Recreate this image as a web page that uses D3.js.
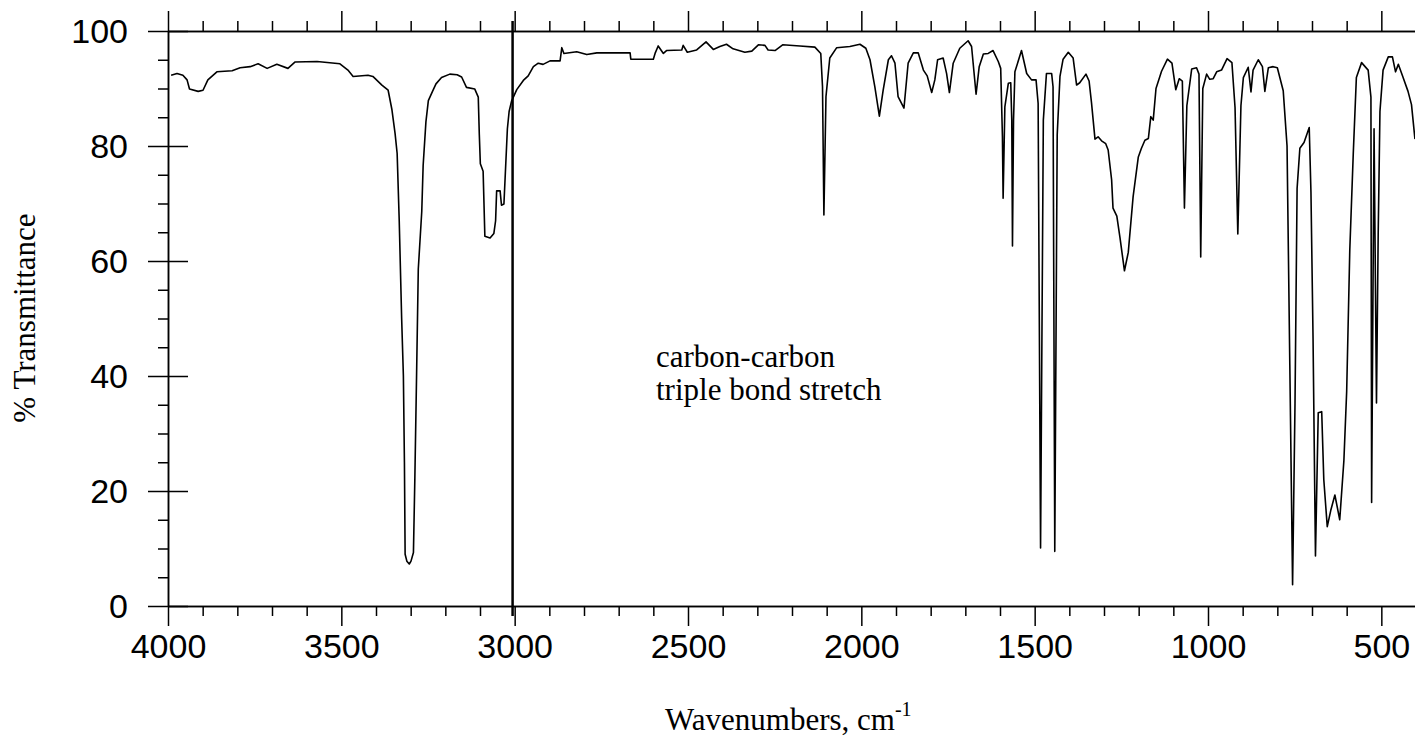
<!DOCTYPE html>
<html>
<head>
<meta charset="utf-8">
<script src="https://cdn.jsdelivr.net/npm/d3@7"></script>
<style>
  body { margin: 0; background: #fff; }
  .axis path, .axis line { stroke: #000; stroke-width: 1.5; }
  .num { font-family: "Liberation Sans", Arial, sans-serif; font-size: 34px; fill: #000; }
  .serif { font-family: "Liberation Serif", "Times New Roman", serif; font-size: 31px; fill: #000; }
</style>
</head>
<body>
<script>
// spectrum (cm-1, % transmittance)
var wavenumbers = [
  3991, 3974, 3957, 3945, 3938, 3913, 3899, 3885, 3859, 3815, 3792, 3763, 3740, 3714, 3686, 3654,
  3634, 3570, 3504, 3481, 3466, 3423, 3409, 3383, 3365, 3354, 3345, 3339, 3333, 3326, 3321, 3318,
  3316, 3311, 3304, 3299, 3292, 3288, 3283, 3278, 3268, 3264, 3256, 3249, 3237, 3227, 3211, 3187,
  3166, 3153, 3139, 3115, 3105, 3102, 3099, 3091, 3086, 3071, 3060, 3055, 3052, 3042, 3038, 3031,
  3021, 3016, 3009, 2994, 2975, 2961, 2946, 2932, 2918, 2898, 2869, 2864, 2858, 2821, 2792, 2763,
  2667, 2665, 2600, 2595, 2586, 2571, 2562, 2518, 2514, 2502, 2475, 2448, 2427, 2408, 2389, 2370,
  2336, 2316, 2297, 2278, 2269, 2249, 2227, 2177, 2134, 2117, 2112, 2108, 2102, 2091, 2071, 2033,
  2004, 1987, 1975, 1961, 1948, 1937, 1922, 1913, 1903, 1894, 1877, 1865, 1850, 1836, 1821, 1810,
  1797, 1788, 1780, 1764, 1754, 1746, 1735, 1716, 1692, 1682, 1669, 1660, 1648, 1634, 1620, 1605,
  1598, 1593, 1591, 1586, 1576, 1569, 1566, 1564, 1561, 1557, 1538, 1523, 1509, 1496, 1490, 1483,
  1475, 1466, 1451, 1447, 1442, 1435, 1427, 1418, 1403, 1389, 1379, 1370, 1352, 1343, 1336, 1326,
  1317, 1307, 1295, 1288, 1278, 1274, 1263, 1254, 1241, 1230, 1216, 1201, 1192, 1182, 1172, 1165,
  1158, 1150, 1134, 1117, 1104, 1093, 1083, 1074, 1068, 1061, 1047, 1033, 1026, 1021, 1015, 1004,
  995, 985, 975, 961, 945, 931, 922, 914, 905, 898, 884, 876, 870, 855, 843, 836,
  826, 812, 800, 783, 772, 764, 756, 749, 743, 735, 723, 708, 703, 697, 690, 682,
  672, 666, 656, 646, 634, 620, 608, 600, 591, 581, 572, 557, 538, 530, 528, 521,
  514, 509, 504, 495, 480, 468, 459, 451, 439, 423, 413, 403
];
var transmittance = [
  92.3, 92.6, 92.3, 91.5, 89.9, 89.5, 89.7, 91.5, 92.9, 93.1, 93.6, 93.8, 94.3, 93.5, 94.2, 93.5,
  94.6, 94.7, 94.3, 93.2, 92.1, 92.3, 92.1, 90.6, 89.7, 86.3, 82.2, 78.7, 67.0, 50.0, 40.0, 25.0,
  9.0, 7.8, 7.3, 7.8, 9.3, 22.0, 40.0, 58.6, 68.6, 76.6, 84.2, 87.9, 89.5, 90.8, 91.9, 92.5,
  92.4, 92.0, 90.2, 89.9, 88.5, 82.0, 76.9, 75.6, 64.3, 64.0, 64.8, 67.0, 72.2, 72.2, 69.7, 69.9,
  83.0, 86.0, 87.8, 89.8, 91.4, 92.2, 93.8, 94.4, 94.2, 94.8, 94.8, 97.1, 96.1, 96.4, 95.9, 96.2,
  96.2, 95.1, 95.1, 96.1, 97.4, 96.1, 96.6, 96.7, 97.5, 96.3, 96.7, 98.1, 96.8, 97.3, 97.7, 96.9,
  96.3, 96.5, 97.6, 97.5, 96.7, 96.6, 97.6, 97.4, 97.2, 96.1, 90.3, 68.0, 88.6, 95.3, 97.1, 97.3,
  97.7, 97.0, 95.0, 90.3, 85.2, 89.7, 95.0, 95.7, 94.4, 88.6, 86.6, 94.4, 96.2, 96.2, 93.2, 92.2,
  89.3, 91.5, 95.0, 95.3, 92.6, 89.3, 94.4, 97.0, 98.3, 97.3, 89.0, 93.8, 96.0, 96.1, 96.6, 94.7,
  93.5, 81.6, 70.9, 86.8, 90.9, 91.0, 84.5, 62.6, 84.5, 92.9, 96.6, 92.6, 91.5, 91.5, 87.4, 10.1,
  84.5, 92.6, 92.6, 90.3, 9.5, 81.9, 92.1, 95.1, 96.3, 95.3, 90.6, 91.0, 92.5, 91.3, 87.5, 81.2,
  81.6, 80.9, 80.4, 79.3, 74.1, 69.2, 67.8, 64.1, 58.3, 61.5, 71.2, 78.1, 79.6, 81.0, 81.3, 85.1,
  84.5, 90.0, 93.0, 95.1, 94.4, 89.8, 91.7, 91.3, 69.2, 87.0, 93.4, 93.6, 92.5, 60.7, 90.0, 92.5,
  91.6, 91.7, 92.9, 93.2, 95.2, 94.5, 86.7, 64.7, 87.0, 91.9, 93.7, 89.4, 93.2, 95.0, 93.8, 89.5,
  93.6, 93.8, 93.6, 89.6, 80.0, 42.0, 3.7, 35.3, 72.6, 79.6, 80.6, 83.2, 71.9, 46.6, 8.7, 33.6,
  33.8, 22.0, 13.8, 16.6, 19.3, 15.0, 25.3, 37.3, 61.9, 78.6, 91.9, 94.5, 93.2, 88.5, 18.0, 83.0,
  35.3, 65.0, 86.0, 93.2, 95.5, 95.5, 92.9, 94.2, 92.2, 89.5, 87.2, 81.2
];

var xTickValues = [4000, 3500, 3000, 2500, 2000, 1500, 1000, 500];
var yTickValues = [0, 20, 40, 60, 80, 100];
var markerWavenumber = 3006;
var annotationLines = ["carbon-carbon", "triple bond stretch"];

var margin = {top: 31, right: 0, bottom: 143, left: 168},
    width = 1416 - margin.left,
    height = 606 - margin.top;

var x = d3.scaleLinear().domain([4000, 400]).range([0, width]);
var y = d3.scaleLinear().domain([0, 100]).range([height, 0]);

var xMinor = d3.range(4000, 400, -100).filter(function(d) { return d % 500 !== 0; });
var yMinor = d3.range(0, 101, 5).filter(function(d) { return d % 20 !== 0; });

var svg = d3.select("body").append("svg")
    .attr("width", 1415)
    .attr("height", 749)
  .append("g")
    .attr("transform", "translate(" + margin.left + "," + margin.top + ")");

svg.append("clipPath").attr("id", "plot-clip")
  .append("rect")
    .attr("x", 0).attr("y", -20)
    .attr("width", width).attr("height", height + 40);

// bottom axis, major + minor ticks
var bottom = svg.append("g")
    .attr("class", "axis")
    .attr("transform", "translate(0," + height + ")")
    .call(d3.axisBottom(x).tickValues(xTickValues).tickSize(20).tickSizeOuter(0).tickFormat(d3.format("d")));
bottom.selectAll("text")
    .attr("class", "num")
    .attr("y", 52)
    .attr("dy", 0);
bottom.attr("font-size", null).attr("font-family", null);

svg.append("g")
    .attr("class", "axis")
    .attr("transform", "translate(0," + height + ")")
    .call(d3.axisBottom(x).tickValues(xMinor).tickSize(10).tickSizeOuter(0).tickFormat(""));

// top axis
svg.append("g")
    .attr("class", "axis")
    .call(d3.axisTop(x).tickValues(xTickValues).tickSize(20).tickSizeOuter(0).tickFormat(""));
svg.append("g")
    .attr("class", "axis")
    .call(d3.axisTop(x).tickValues(xMinor).tickSize(10).tickSizeOuter(0).tickFormat(""));

// left axis, major ticks cross the line
var left = svg.append("g")
    .attr("class", "axis")
    .call(d3.axisLeft(y).tickValues(yTickValues).tickSize(20).tickSizeOuter(0));
left.selectAll(".tick line").attr("x1", 20).attr("x2", -20);
left.selectAll("text")
    .attr("class", "num")
    .attr("x", -40)
    .attr("dy", "0.35em");
left.attr("font-size", null).attr("font-family", null);

svg.append("g")
    .attr("class", "axis")
    .call(d3.axisLeft(y).tickValues(yMinor).tickSize(10).tickSizeOuter(0).tickFormat(""));

// marker line at ~3000
svg.append("line")
    .attr("x1", x(markerWavenumber)).attr("x2", x(markerWavenumber))
    .attr("y1", -10).attr("y2", height + 10)
    .attr("stroke", "#000")
    .attr("stroke-width", 2.5);

// spectrum
var points = wavenumbers.map(function(w, i) { return {wn: w, t: transmittance[i]}; });
var lineFunction = d3.line()
    .x(function(d) { return x(d.wn); })
    .y(function(d) { return y(d.t); });

svg.append("path")
    .attr("d", lineFunction(points))
    .attr("clip-path", "url(#plot-clip)")
    .attr("fill", "none")
    .attr("stroke", "#000")
    .attr("stroke-width", 1.6)
    .attr("stroke-linejoin", "round");

// annotation
svg.append("g").selectAll("text")
    .data(annotationLines)
  .enter().append("text")
    .attr("class", "serif")
    .attr("x", 656 - margin.left)
    .attr("y", function(d, i) { return 367 - margin.top + i * 33; })
    .text(function(d) { return d; });

// axis titles
svg.append("text")
    .attr("class", "serif")
    .attr("transform", "translate(" + (35 - margin.left) + "," + (318 - margin.top) + ") rotate(-90)")
    .style("text-anchor", "middle")
    .text("% Transmittance");

var xTitle = svg.append("text")
    .attr("class", "serif")
    .attr("x", 665 - margin.left)
    .attr("y", 730 - margin.top);
xTitle.append("tspan").text("Wavenumbers, cm");
xTitle.append("tspan")
    .attr("dy", -14)
    .style("font-size", "20px")
    .text("-1");
</script>
</body>
</html>
